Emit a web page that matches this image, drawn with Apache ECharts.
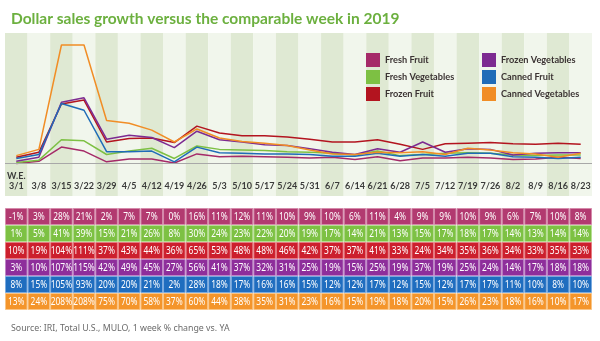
<!DOCTYPE html>
<html>
<head>
<meta charset="utf-8">
<script src="https://cdn.jsdelivr.net/npm/echarts@6/dist/echarts.min.js"></script>
<style>
  html, body { margin: 0; padding: 0; background: #ffffff; }
  #chart { width: 600px; height: 341px; }
</style>
</head>
<body>
<div id="chart"></div>
<script>
// Week-ending dates (2020), one column per week
const weeks = ['3/1','3/8','3/15','3/22','3/29','4/5','4/12','4/19','4/26','5/3','5/10','5/17','5/24',
               '5/31','6/7','6/14','6/21','6/28','7/5','7/12','7/19','7/26','8/2','8/9','8/16','8/23'];

// Dollar sales growth, % vs. comparable week of 2019
const freshFruit      = [-1, 3, 28, 21, 2, 7, 7, 0, 16, 11, 12, 11, 10, 9, 10, 6, 11, 4, 9, 9, 10, 9, 6, 7, 10, 8];
const freshVegetables = [1, 5, 41, 39, 15, 21, 26, 8, 30, 24, 23, 22, 20, 19, 17, 14, 21, 13, 15, 17, 18, 17, 14, 13, 14, 14];
const frozenFruit     = [10, 19, 104, 111, 37, 43, 44, 36, 65, 53, 48, 48, 46, 42, 37, 37, 41, 33, 24, 34, 35, 36, 34, 33, 35, 33];
const frozenVegetables= [3, 10, 107, 115, 42, 49, 45, 27, 56, 41, 37, 32, 31, 25, 19, 15, 25, 19, 37, 19, 25, 24, 14, 17, 18, 18];
const cannedFruit     = [8, 15, 105, 93, 20, 20, 21, 2, 28, 18, 17, 16, 16, 15, 12, 12, 17, 12, 15, 12, 17, 17, 11, 10, 8, 10];
const cannedVegetables= [13, 24, 208, 208, 75, 70, 58, 37, 60, 44, 38, 35, 31, 23, 16, 15, 19, 18, 20, 15, 26, 23, 18, 16, 10, 17];

const seriesNames = ['Fresh Fruit', 'Fresh Vegetables', 'Frozen Fruit', 'Frozen Vegetables', 'Canned Fruit', 'Canned Vegetables'];
const seriesValues = [freshFruit, freshVegetables, frozenFruit, frozenVegetables, cannedFruit, cannedVegetables];
const lineColors = ['#a52a68', '#7dc043', '#b3141f', '#7d2b91', '#1f6cb8', '#f18d25'];
const cellColors = ['#b23a70', '#7dc143', '#cc1f2d', '#8e2e9b', '#1f6dbf', '#f4952b'];
const cellEdges  = ['#d58aab', '#b6de93', '#e67a80', '#be86c6', '#7aaadf', '#f9c587'];

const chart = echarts.init(document.getElementById('chart'), null, { renderer: 'canvas' });

// Table cells: [week index, row index, value]
const tableData = [];
seriesValues.forEach((vals, r) => vals.forEach((v, i) => tableData.push([i, r, v])));

const lineSeries = seriesNames.map((name, k) => ({
  name: name,
  type: 'line',
  xAxisIndex: 0,
  yAxisIndex: 0,
  data: seriesValues[k],
  symbol: 'none',
  clip: false,
  color: lineColors[k],
  lineStyle: { width: 1.5, color: lineColors[k] },
  z: 3
}));

// zero baseline under the lines
lineSeries[0].markLine = {
  silent: true,
  symbol: 'none',
  label: { show: false },
  lineStyle: { color: '#a8a8a8', width: 1, type: 'solid' },
  data: [{ yAxis: 0 }]
};

const legendText = { fontFamily: 'Lato, "Noto Sans", sans-serif', fontWeight: 'bold', fontSize: 9.2, color: '#3b3333' };

const option = {
  animation: false,
  backgroundColor: '#ffffff',
  title: [
    {
      text: 'Dollar sales growth versus the comparable week in 2019',
      left: 6, top: 6,
      textStyle: { fontFamily: 'Lato, "Noto Sans", sans-serif', fontWeight: 'bold', fontSize: 15.5, color: '#6cb03f' }
    },
    {
      text: 'Source: IRI, Total U.S., MULO, 1 week % change vs. YA',
      left: 6, top: 319,
      textStyle: { fontFamily: '"Noto Sans", sans-serif', fontWeight: 'normal', fontSize: 8.8, color: '#6b6b6b' }
    }
  ],
  legend: [
    {
      data: seriesNames.slice(0, 3),
      orient: 'vertical', left: 366, top: 53, padding: 0,
      itemWidth: 14, itemHeight: 14, itemGap: 3, icon: 'rect',
      selectedMode: false,
      textStyle: legendText
    },
    {
      data: seriesNames.slice(3),
      orient: 'vertical', left: 482, top: 53, padding: 0,
      itemWidth: 14, itemHeight: 14, itemGap: 3, icon: 'rect',
      selectedMode: false,
      textStyle: legendText
    }
  ],
  grid: [
    { left: 5, right: 8, top: 33, bottom: 145 },
    { left: 5, right: 8, top: 208, height: 102 }
  ],
  xAxis: [
    {
      type: 'category', gridIndex: 0, data: weeks, boundaryGap: true,
      axisLine: { show: false, onZero: false },
      axisTick: { show: false },
      axisLabel: {
        inside: true, interval: 0, margin: 5, verticalAlign: 'bottom', lineHeight: 10,
        fontFamily: 'Lato, "Noto Sans", sans-serif', fontWeight: 'bold', fontSize: 9, color: '#3a3a3a',
        formatter: (v, i) => (i === 0 ? 'W.E.\n' + v : v)
      },
      splitArea: { show: true, interval: 0, areaStyle: { color: ['#dfe9d3', '#f1f6ec'] } },
      splitLine: { show: false }
    },
    {
      type: 'category', gridIndex: 1, data: weeks, boundaryGap: true, show: false
    }
  ],
  yAxis: [
    { type: 'value', gridIndex: 0, min: -58.2, max: 229.2, show: false, splitLine: { show: false } },
    { type: 'category', gridIndex: 1, data: seriesNames, inverse: true, show: false }
  ],
  series: lineSeries.concat([
    {
      name: 'table',
      type: 'custom',
      xAxisIndex: 1,
      yAxisIndex: 1,
      data: tableData,
      renderItem: function (params, api) {
        const c = api.coord([api.value(0), api.value(1)]);
        const s = api.size([1, 1]);
        const r = api.value(1);
        const w = s[0] - 1, h = s[1] - 1;
        return {
          type: 'group',
          children: [
            {
              type: 'rect',
              shape: { x: c[0] - w / 2, y: c[1] - h / 2, width: w, height: h },
              style: { fill: cellColors[r], stroke: cellEdges[r], lineWidth: 1 }
            },
            {
              type: 'text',
              x: c[0], y: c[1] + 0.5,
              scaleX: 0.8,
              style: {
                x: 0, y: 0,
                text: api.value(2) + '%',
                fill: '#ffffff',
                align: 'center', verticalAlign: 'middle',
                font: '10.5px "Noto Sans", sans-serif'
              }
            }
          ]
        };
      },
      z: 2
    }
  ])
};

chart.setOption(option);
</script>
</body>
</html>
